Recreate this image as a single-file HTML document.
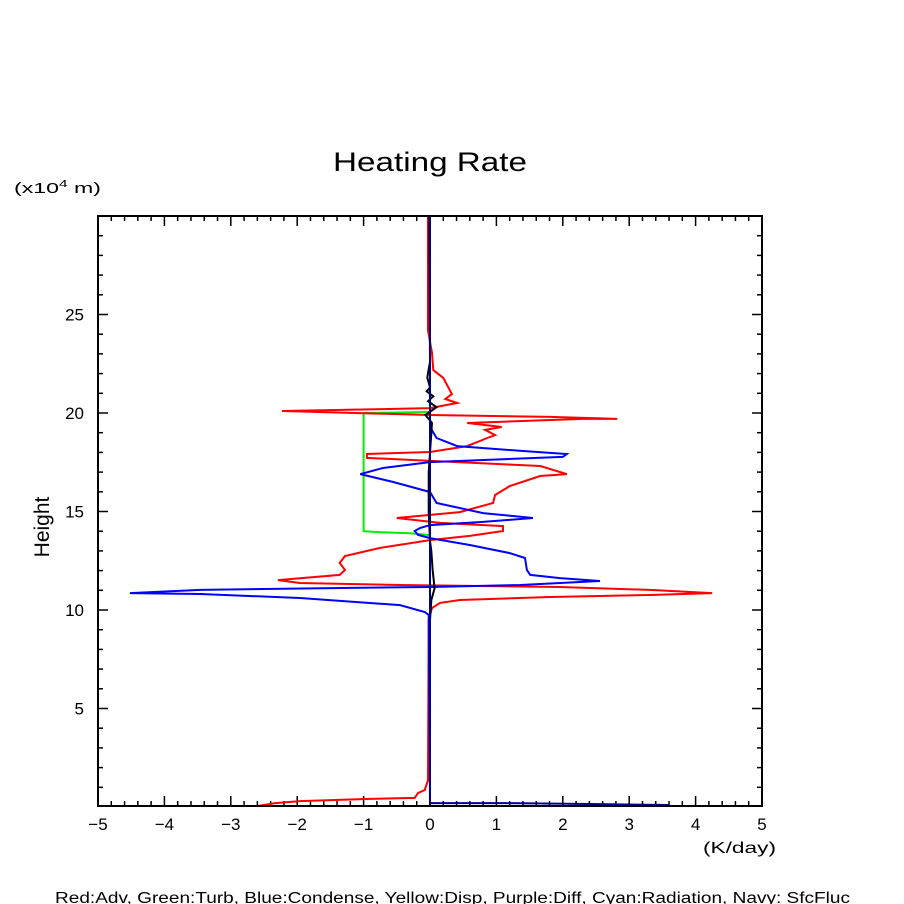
<!DOCTYPE html>
<html><head><meta charset="utf-8"><style>
body{margin:0;background:#fff;}
svg{display:block;font-family:"Liberation Sans",sans-serif;}
</style></head><body>
<svg id="chart" width="904" height="904" viewBox="0 0 904 904">
<rect width="904" height="904" fill="#fff"/>
<text x="333" y="171" font-size="27" textLength="194" lengthAdjust="spacingAndGlyphs">Heating Rate</text>
<text x="14" y="193" font-size="15" textLength="87" lengthAdjust="spacingAndGlyphs">(x10<tspan font-size="10" dy="-6">4</tspan><tspan dy="6"> m)</tspan></text>
<text x="0" y="0" font-size="21" text-anchor="middle" transform="translate(49,527) rotate(-90)">Height</text>
<text x="703" y="853" font-size="16" textLength="73" lengthAdjust="spacingAndGlyphs">(K/day)</text>
<text x="55" y="903" font-size="15.5" textLength="795" lengthAdjust="spacingAndGlyphs">Red:Adv, Green:Turb, Blue:Condense, Yellow:Disp, Purple:Diff, Cyan:Radiation, Navy: SfcFluc</text>
<g id="ticks"></g>
<g id="series"></g>
<rect x="98" y="216" width="664" height="590" fill="none" stroke="#000" stroke-width="2"/>
</svg>
<script>
const xTicks=[-5,-4,-3,-2,-1,0,1,2,3,4,5];
const yTicks=[5,10,15,20,25];
const red=[[-2.59,0.05],[-2.33,0.2],[-1.96,0.3],[-0.9,0.41],[-0.23,0.46],[-0.18,0.71],[-0.08,0.86],[-0.03,1.37],[-0.02,9.5],[0.03,10.1],[0.15,10.36],[0.45,10.51],[1.81,10.66],[3.31,10.76],[4.25,10.86],[3.31,11.02],[1.96,11.17],[-0.45,11.27],[-1.96,11.37],[-2.29,11.52],[-1.36,11.78],[-1.28,12.03],[-1.36,12.39],[-1.28,12.74],[-0.75,13.15],[0,13.55],[0.6,13.76],[1.1,14.01],[1.1,14.26],[0.15,14.42],[-0.5,14.67],[0.45,14.97],[0.95,15.43],[0.98,15.84],[1.2,16.29],[1.66,16.8],[2.06,16.9],[1.66,17.31],[0.41,17.51],[-0.95,17.72],[-0.95,17.92],[0,18.02],[0.56,18.32],[0.9,18.78],[0.98,18.88],[0.83,19.14],[1.08,19.29],[0.56,19.49],[2.3,19.7],[2.82,19.7],[1.81,19.8],[0,19.9],[-2.23,20.1],[-0.71,20.2],[0,20.25],[0.41,20.51],[0.23,20.71],[0.33,20.96],[0.2,21.78],[0.05,22.18],[0.03,23.05],[-0.03,24.2],[-0.03,30]];
const blue=[[0,0.2],[-0.02,9.75],[-0.08,9.9],[-0.45,10.25],[-1.96,10.61],[-3.46,10.81],[-4.52,10.86],[-3.46,11.02],[-1.2,11.12],[0,11.17],[1.36,11.27],[2.56,11.47],[1.96,11.62],[1.51,11.78],[1.46,12.03],[1.43,12.64],[1.2,12.89],[0.6,13.3],[0,13.65],[-0.18,13.81],[-0.23,14.01],[-0.15,14.16],[0,14.31],[0.8,14.47],[1.55,14.67],[0.8,14.92],[0.1,15.43],[0,15.99],[-0.56,16.5],[-1.05,16.9],[-0.71,17.21],[0,17.51],[2.0,17.77],[2.06,17.92],[1.4,18.07],[0.41,18.32],[0.1,18.73],[0,19.29],[0,30]];
const green=[[0,20.05],[-1,20.0],[-1,14.0],[-0.75,13.95],[-0.3,13.9],[0,13.8]];
const black=[[0,0],[0,9.5],[0.02,10.5],[0.07,11.1],[0.04,12.0],[0.02,13],[0,13.5],[-0.02,15],[-0.02,17],[0.03,19.5],[-0.07,19.9],[0.1,20.3],[-0.03,20.6],[0.05,20.85],[-0.05,21.1],[0,21.3],[-0.04,21.8],[0,22.6],[-0.01,30]];
const navy=[[0,30],[0,0.2],[1.2,0.2],[2.4,0.15],[3.6,0.1]];

const NS='http://www.w3.org/2000/svg';
const X0=98,X1=762,Y0=807,YT=216;
function sx(v){return X0+(v+5)*(X1-X0)/10;}
function sy(h){return Y0-h*(Y0-YT)/30;}
const tg=document.getElementById('ticks');
function line(x1,y1,x2,y2,name){
  const l=document.createElementNS(NS,'line');
  l.setAttribute('x1',x1);l.setAttribute('y1',y1);l.setAttribute('x2',x2);l.setAttribute('y2',y2);
  l.setAttribute('stroke','#000');l.setAttribute('stroke-width','1.5');
  
  
  tg.appendChild(l);
}
for(let v=-5;v<=5.001;v+=0.2){
  const major=Math.abs(v-Math.round(v))<1e-6;
  const len=major?10:5;const x=sx(v);
  line(x,806,x,806-len,'x-tick');
  line(x,216,x,216+len,'x-tick-top');
}
for(let h=1;h<30;h+=1){
  const major=h%5===0;const len=major?10:5;const y=sy(h);
  line(98,y,98+len,y,'y-tick');
  line(762,y,762-len,y,'y-tick-right');
}
xTicks.forEach(v=>{
  const t=document.createElementNS(NS,'text');
  t.setAttribute('x',sx(v));t.setAttribute('y',830);t.setAttribute('font-size','17');t.setAttribute('text-anchor','middle');
  t.textContent=(v<0?'\u2212'+(-v):String(v));
  
  
  tg.appendChild(t);
});
yTicks.forEach(v=>{
  const t=document.createElementNS(NS,'text');
  t.setAttribute('x',84);t.setAttribute('y',sy(v)+6);t.setAttribute('font-size','17');t.setAttribute('text-anchor','end');
  t.textContent=String(v);
  
  
  tg.appendChild(t);
});
const sg=document.getElementById('series');
function series(data,color,name){
  const p=document.createElementNS(NS,'polyline');
  p.setAttribute('points',data.map(d=>sx(d[0]).toFixed(1)+','+sy(d[1]).toFixed(1)).join(' '));
  p.setAttribute('fill','none');p.setAttribute('stroke',color);p.setAttribute('stroke-width','2');
  
  
  sg.appendChild(p);
}
series(green,'#00ee00','turbulence-line');
series(red,'#ff0000','advection-line');
series(blue,'#0000ff','condensation-line');
series(black,'#000000','total-line');
series(navy,'#00008b','surface-flux-line');
</script>
</body></html>
